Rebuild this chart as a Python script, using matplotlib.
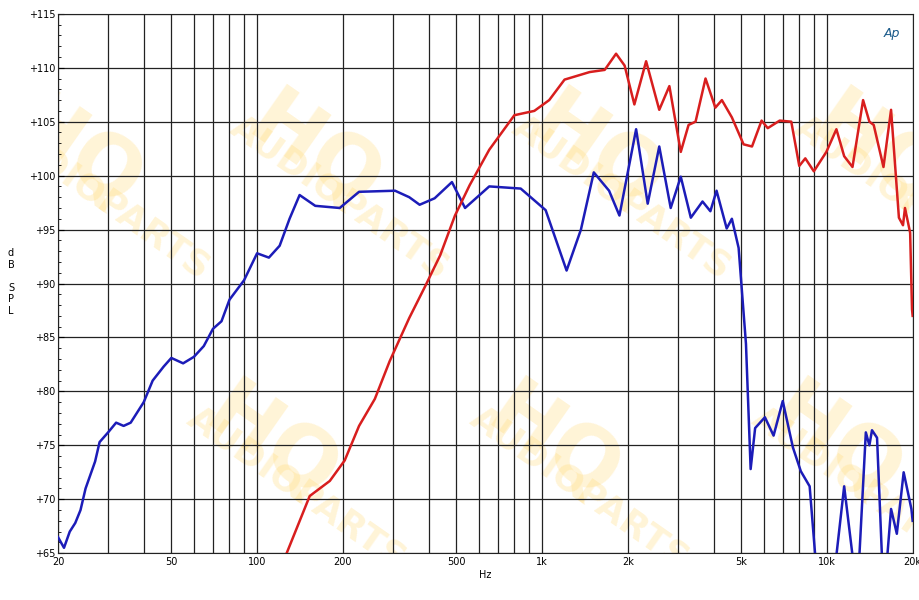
import matplotlib
matplotlib.use("Agg")
import matplotlib.pyplot as plt
from matplotlib.ticker import FixedLocator, MultipleLocator, NullFormatter

blue_f = [20, 21, 22, 23, 24, 25, 27, 28, 30, 32, 34, 36, 40, 43, 47, 50, 55, 60, 65, 70, 75, 80, 90, 100, 110, 120, 130, 141,
          160, 195, 228, 305, 342, 372, 420, 483, 537, 653, 842, 1030, 1220, 1370, 1520, 1720, 1870, 2140, 2350, 2580,
          2830, 3070, 3330, 3660, 3900, 4100, 4450, 4640, 4900, 5200, 5400, 5600, 6060, 6500, 7000, 7600, 8100, 8700,
          9100, 9800, 10800, 11500, 12300, 12900, 13700, 14100, 14400, 15000, 15600, 16100, 16800, 17600, 18600, 19800, 20000]
blue_db = [66.5, 65.5, 67, 67.8, 69, 71, 73.5, 75.3, 76.2, 77.1, 76.8, 77.1, 79, 81, 82.3, 83.1, 82.6, 83.2, 84.2, 85.8, 86.5, 88.5, 90.3, 92.8, 92.4, 93.5, 96, 98.2,
           97.2, 97, 98.5, 98.6, 98, 97.3, 97.9, 99.4, 97, 99, 98.8, 96.8, 91.2, 95, 100.3, 98.6, 96.3, 104.3, 97.4, 102.7,
           97, 99.9, 96.1, 97.6, 96.7, 98.6, 95.1, 96, 93.3, 84.4, 72.8, 76.6, 77.6, 75.9, 79.1, 74.8, 72.6, 71.2,
           64.8, 62, 64.8, 71.2, 64.8, 63, 76.2, 75, 76.4, 75.7, 64.8, 63, 69.1, 66.8, 72.5, 69.1, 68]

red_f = [120, 127, 153, 180, 203, 228, 259, 292, 342, 390, 439, 495, 557, 653, 800, 940, 1060, 1200, 1470, 1660, 1820, 1950,
         2110, 2320, 2580, 2800, 3070, 3270, 3460, 3750, 4060, 4280, 4640, 5100, 5460, 5900, 6200, 6830, 7500, 8000,
         8400, 9000, 9960, 10800, 11500, 12300, 13400, 14100, 14600, 15800, 16800, 17900, 18500, 18800, 19600, 19900, 20000]
red_db = [64, 65, 70.3, 71.7, 73.6, 76.8, 79.3, 82.8, 86.8, 89.8, 92.6, 96.3, 99.1, 102.4, 105.6, 106, 107, 108.9, 109.6, 109.8, 111.3, 110.2,
          106.6, 110.6, 106.1, 108.3, 102.2, 104.7, 105, 109, 106.3, 107, 105.4, 102.9, 102.7, 105.1, 104.4, 105.1, 105, 100.9,
          101.6, 100.4, 102.2, 104.3, 101.8, 100.8, 107, 105, 104.7, 100.8, 106.1, 96.1, 95.4, 97, 94.7, 87.6, 87]

x_ticks = [20, 50, 100, 200, 500, 1000, 2000, 5000, 10000, 20000]
x_labels = ["20", "50", "100", "200", "500", "1k", "2k", "5k", "10k", "20k"]
y_ticks = list(range(65, 116, 5))
y_labels = ["+%d" % v for v in y_ticks]

fig = plt.figure(figsize=(9.2, 6.0), dpi=100)
ax = fig.add_axes([0.063, 0.078, 0.929, 0.899])

# watermarks
for (wx, wy) in [(0.30, 0.74), (0.63, 0.74), (0.96, 0.74), (0.02, 0.74), (0.25, 0.20), (0.58, 0.20), (0.91, 0.20)]:
    ax.text(wx, wy, "HQ", transform=ax.transAxes, fontsize=60, fontweight="bold", color="#ffd870",
            alpha=0.28, rotation=-35, ha="center", va="center", zorder=0, clip_on=True)
    ax.text(wx + 0.03, wy - 0.08, "AUDIOPARTS", transform=ax.transAxes, fontsize=26, fontweight="bold",
            color="#ffd870", alpha=0.28, rotation=-35, ha="center", va="center", zorder=0, clip_on=True)

ax.plot(blue_f, blue_db, color="#1c1cb8", lw=1.8, zorder=3)
ax.plot(red_f, red_db, color="#d81e1e", lw=1.8, zorder=3)

ax.set_xscale("log")
ax.set_xlim(20, 20000)
ax.set_ylim(65, 115)
ax.xaxis.set_major_locator(FixedLocator(x_ticks))
ax.set_xticklabels(x_labels, fontsize=7)
minors = [m * 10 ** e for e in range(1, 5) for m in range(1, 10) if 20 <= m * 10 ** e <= 20000 and m * 10 ** e not in x_ticks]
ax.xaxis.set_minor_locator(FixedLocator(minors))
ax.xaxis.set_minor_formatter(NullFormatter())
ax.set_yticks(y_ticks)
ax.set_yticklabels(y_labels, fontsize=7)
ax.yaxis.set_minor_locator(MultipleLocator(1))
ax.grid(True, which="both", axis="x", color="#222222", lw=0.9)
ax.grid(True, which="major", axis="y", color="#222222", lw=0.9)
ax.tick_params(axis="x", which="both", length=0, pad=3)
ax.tick_params(axis="y", which="major", length=4, direction="in", pad=2)
ax.tick_params(axis="y", which="minor", length=2, direction="in")
for s in ax.spines.values():
    s.set_color("#222222")
ax.set_xlabel("Hz", fontsize=7, labelpad=2)
fig.text(0.012, 0.53, "d\nB\n\nS\nP\nL", fontsize=7, ha="center", va="center", linespacing=1.2)
ax.text(0.985, 0.975, "Ap", transform=ax.transAxes, fontsize=9, style="italic", color="#1a5a8a",
        ha="right", va="top")
fig.savefig("out.png", dpi=100)
